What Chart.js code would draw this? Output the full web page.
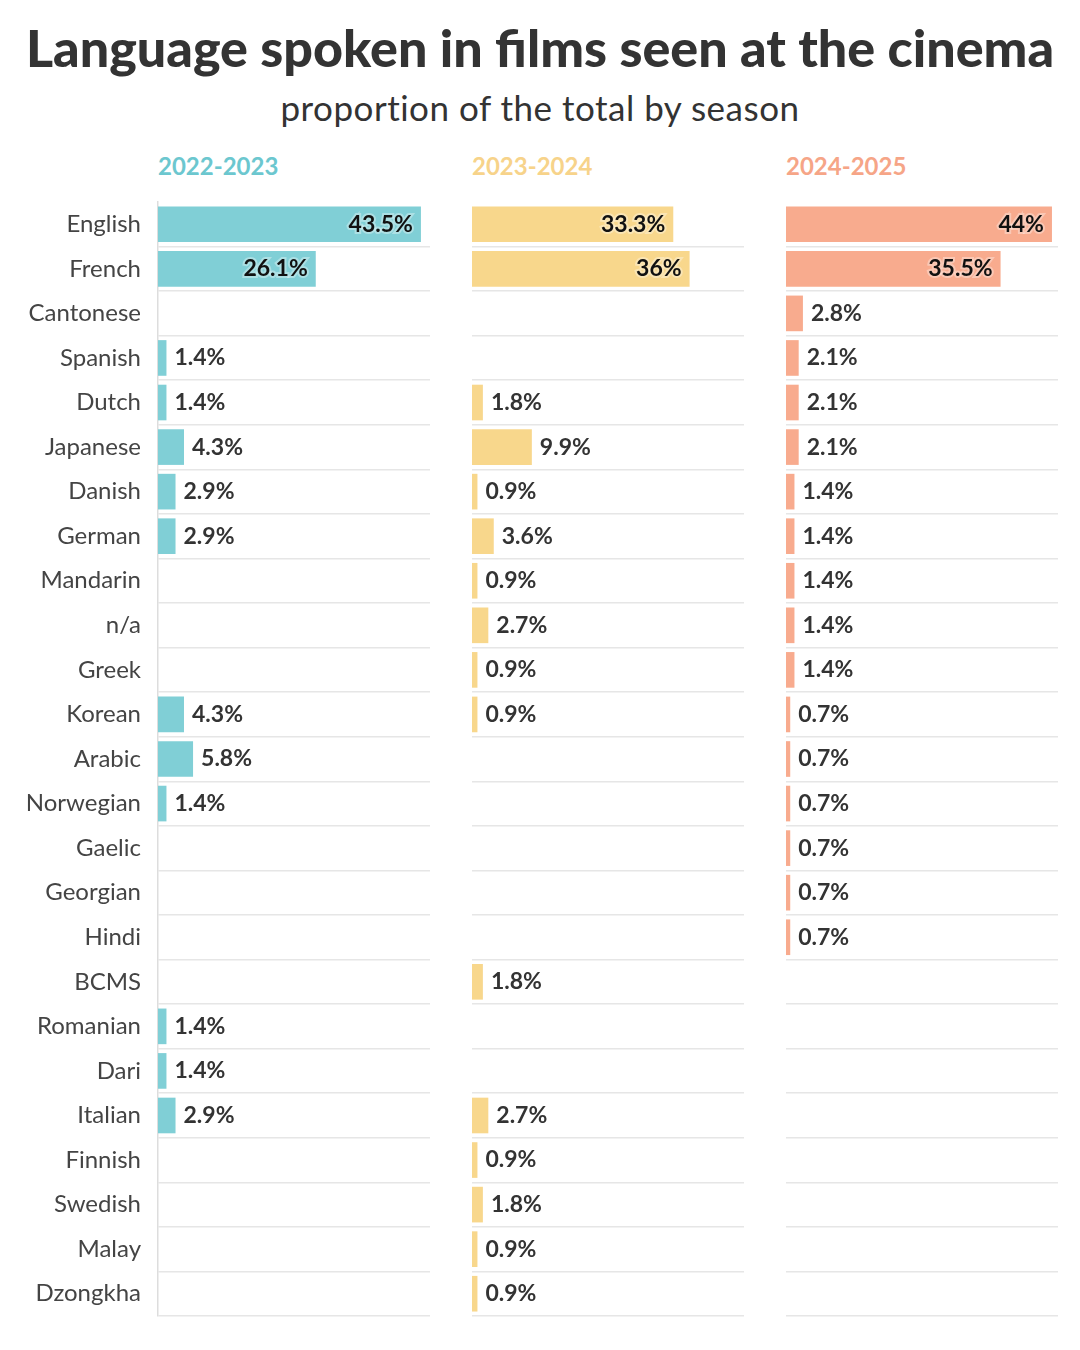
<!DOCTYPE html>
<html><head><meta charset="utf-8">
<script src="https://cdn.jsdelivr.net/npm/chart.js@4"></script>
<style>
body{margin:0;width:1080px;height:1350px;background:#fff;font-family:Lato,sans-serif;position:relative;overflow:hidden}
h1{position:absolute;top:16px;left:0;width:1080px;text-align:center;margin:0;font-size:52px;font-weight:900;color:#333}
h2{position:absolute;top:86px;left:0;width:1080px;text-align:center;margin:0;font-size:35px;font-weight:400;color:#333;letter-spacing:0.5px}
.hd{position:absolute;top:151px;font-size:24px;font-weight:700}
canvas{position:absolute;top:0}
</style></head><body>
<h1>Language spoken in films seen at the cinema</h1>
<h2>proportion of the total by season</h2>
<div class="hd" style="left:158px;color:#6cc7cf">2022-2023</div>
<div class="hd" style="left:472px;color:#f7d38a">2023-2024</div>
<div class="hd" style="left:786px;color:#f6a587">2024-2025</div>
<div style="position:absolute;left:0;top:0;width:430px;height:1350px"><canvas id="c1"></canvas></div>
<div style="position:absolute;left:472px;top:0;width:272px;height:1350px"><canvas id="c2"></canvas></div>
<div style="position:absolute;left:786px;top:0;width:272px;height:1350px"><canvas id="c3"></canvas></div>
<script>
const languages = ['English','French','Cantonese','Spanish','Dutch','Japanese','Danish','German','Mandarin','n/a','Greek','Korean','Arabic','Norwegian','Gaelic','Georgian','Hindi','BCMS','Romanian','Dari','Italian','Finnish','Swedish','Malay','Dzongkha'];
const season1 = [43.5,26.1,null,1.4,1.4,4.3,2.9,2.9,null,null,null,4.3,5.8,1.4,null,null,null,null,1.4,1.4,2.9,null,null,null,null];
const season2 = [33.3,36,null,null,1.8,9.9,0.9,3.6,0.9,2.7,0.9,0.9,null,null,null,null,null,1.8,null,null,2.7,0.9,1.8,0.9,0.9];
const season3 = [44,35.5,2.8,2.1,2.1,2.1,1.4,1.4,1.4,1.4,1.4,0.7,0.7,0.7,0.7,0.7,0.7,null,null,null,null,null,null,null,null];
const seasonLabels = ['2022-2023','2023-2024','2024-2025'];
const colors = ['#80cfd6','#f8d78c','#f8ab8e'];

const valueLabels = {
  id: 'valueLabels',
  afterDatasetsDraw(chart) {
    const c = chart.ctx;
    const meta = chart.getDatasetMeta(0);
    c.save();
    c.font = '700 23px Lato';
    c.textBaseline = 'middle';
    meta.data.forEach((bar, i) => {
      const v = chart.data.datasets[0].data[i];
      if (v == null) return;
      const txt = v + '%';
      if (v > 20) {
        c.textAlign = 'right';
        c.lineWidth = 4; c.strokeStyle = 'rgba(255,255,255,0.35)';
        c.strokeText(txt, bar.x - 8, bar.y);
        c.fillStyle = '#111';
        c.fillText(txt, bar.x - 8, bar.y);
      } else {
        c.textAlign = 'left';
        c.fillStyle = '#333';
        c.fillText(txt, bar.x + 8, bar.y);
      }
    });
    c.restore();
  }
};

function makeChart(id, data, color, showLabels) {
  new Chart(document.getElementById(id), {
    type: 'bar',
    data: { labels: languages, datasets: [{ data, backgroundColor: color, barPercentage: 0.8, categoryPercentage: 1 }] },
    options: {
      indexAxis: 'y', responsive: true, maintainAspectRatio: false, animation: false,
      layout: { padding: { top: 202, bottom: 34, left: 0, right: 0 } },
      plugins: { legend: { display: false }, tooltip: { enabled: false } },
      scales: {
        x: { min: 0, max: 45, display: false },
        y: {
          grid: { offset: true, drawTicks: false, lineWidth: 1.5,
            color: (g) => (g.index === 0 || g.index === languages.length) ? 'rgba(0,0,0,0)' : '#e6e6e6' },
          border: { display: showLabels, color: '#dddddd', width: 1.5 },
          ticks: { display: showLabels, color: '#444', font: { family: 'Lato', size: 24 }, padding: 17 },
          afterFit(s) { s.width = showLabels ? 158 : 0; }
        }
      }
    },
    plugins: [valueLabels]
  });
}
makeChart('c1', season1, colors[0], true);
makeChart('c2', season2, colors[1], false);
makeChart('c3', season3, colors[2], false);
</script>
</body></html>
